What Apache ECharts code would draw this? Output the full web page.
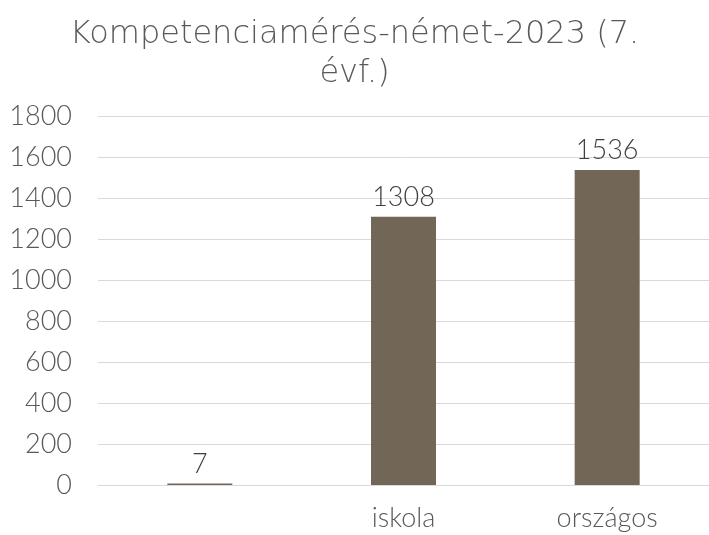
<!DOCTYPE html>
<html>
<head>
<meta charset="utf-8">
<script src="https://cdn.jsdelivr.net/npm/echarts@6/dist/echarts.min.js"></script>
<style>
  html, body { margin: 0; padding: 0; background: #fff; }
  #chart { width: 709px; height: 535px; }
</style>
</head>
<body>
<div id="chart"></div>
<script>
const categories = ["", "iskola", "országos"];
const values = [7, 1308, 1536];
const yTicks = [0, 200, 400, 600, 800, 1000, 1200, 1400, 1600, 1800];

const font = "Lato, 'Open Sans', sans-serif";
const titleFont = "'DejaVu Sans', Lato, sans-serif";
const textColor = "#595959";

const chart = echarts.init(document.getElementById("chart"));
chart.setOption({
  title: {
    text: "Kompetenciamérés-német-2023 (7.\névf.)",
    left: "center",
    top: 10,
    padding: [5, 5, 5, 20],
    textStyle: {
      fontFamily: titleFont,
      fontWeight: 200,
      fontSize: 32,
      lineHeight: 39,
      color: textColor,
    },
  },
  grid: {
    left: 98,
    right: 0,
    top: 116,
    bottom: 50,
  },
  xAxis: {
    type: "category",
    data: categories,
    axisTick: { show: false },
    axisLine: { lineStyle: { color: "#d9d9d9" } },
    axisLabel: {
      fontFamily: font,
      fontWeight: 300,
      fontSize: 27,
      color: textColor,
      margin: 20,
    },
  },
  yAxis: {
    type: "value",
    min: yTicks[0],
    max: yTicks[yTicks.length - 1],
    interval: 200,
    axisLabel: {
      fontFamily: font,
      fontWeight: 300,
      fontSize: 27,
      color: textColor,
      margin: 26,
      formatter: (v) => String(v),
    },
    splitLine: { lineStyle: { color: "#d9d9d9" } },
  },
  series: [
    {
      type: "bar",
      data: values,
      barWidth: 65,
      itemStyle: { color: "#726656" },
      label: {
        show: true,
        position: "top",
        distance: 6,
        fontFamily: font,
        fontWeight: 300,
        fontSize: 27,
        color: "#404040",
      },
    },
  ],
});
</script>
</body>
</html>
